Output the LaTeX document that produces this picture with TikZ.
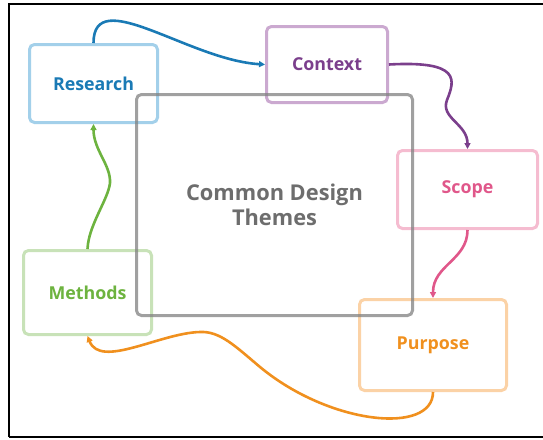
\documentclass[tikz,border=0pt]{standalone}
\usepackage{fontspec}
\setmainfont{Open Sans}
\usetikzlibrary{arrows.meta}
\definecolor{resblue}{HTML}{1A7AB5}\definecolor{resline}{HTML}{A3D0EA}
\definecolor{conpurple}{HTML}{7B3F8C}\definecolor{conline}{HTML}{CBA9D0}
\definecolor{scopink}{HTML}{E0578A}\definecolor{scoline}{HTML}{F5BCD0}
\definecolor{purorange}{HTML}{F0901E}\definecolor{purline}{HTML}{FBD2A6}
\definecolor{metgreen}{HTML}{6DB33F}\definecolor{metline}{HTML}{C8E2B8}
\definecolor{themegray}{HTML}{6D6D6D}
\begin{document}
\begin{tikzpicture}[x=1pt,y=-1pt,>={Triangle[length=6pt,width=6pt]},
  theme/.style={draw,line width=3pt,rounded corners=5pt,align=center,font=\fontsize{17.8}{20}\selectfont\bfseries},
  flow/.style={->,line width=2.6pt}]
 \useasboundingbox (0,0) rectangle (543,439);
 \draw[line width=2.5pt] (545,4)--(9,4)--(9,437);
 \draw[line width=2pt] (9,437)--(545,437);
 \node[theme,draw=resline,text=resblue,minimum width=128pt,minimum height=78pt] (research) at (93.5,83.5) {Research};
 \node[theme,draw=conline,text=conpurple,minimum width=121pt,minimum height=76pt] (context) at (327,64.5) {Context};
 \node[theme,draw=scoline,text=scopink,minimum width=140pt,minimum height=78pt] (scope) at (467.5,189.5) {Scope};
 \node[theme,draw=purline,text=purorange,minimum width=147pt,minimum height=91pt] (purpose) at (433,345) {Purpose};
 \node[theme,draw=metline,text=metgreen,minimum width=128pt,minimum height=84pt] (methods) at (87.5,292.5) {Methods};
 \node[theme,draw=gray,draw opacity=.75,text=themegray,minimum width=276pt,minimum height=221pt,
  font=\fontsize{21.8}{24.5}\selectfont\bfseries] (common) at (274.5,205) {Common Design\\Themes};
 \draw[flow,resblue] (research.north) .. controls +(0,-59) and +(-76,-4.5) .. (context.west);
 \draw[flow,conpurple] (context.east) .. controls +(72,-4) and (455,80) .. (447,100)
  .. controls (440,118) and +(0,-25) .. (scope.north);
 \draw[flow,scopink] (scope.south) .. controls +(0,30) and +(0,-33) .. (purpose.north);
 \draw[flow,purorange] (purpose.south) .. controls +(0,43) and +(70,58) .. (260,367)
  .. controls +(-25,-21) and +(20,-1) .. (200,332) .. controls +(-40,1) and +(13,33) .. (methods.south);
 \draw[flow,metgreen] (methods.north) .. controls +(1,-24) and +(-2,17) .. (110,183)
  .. controls +(1,-18) and +(0,26) .. (research.south);
\end{tikzpicture}
\end{document}
